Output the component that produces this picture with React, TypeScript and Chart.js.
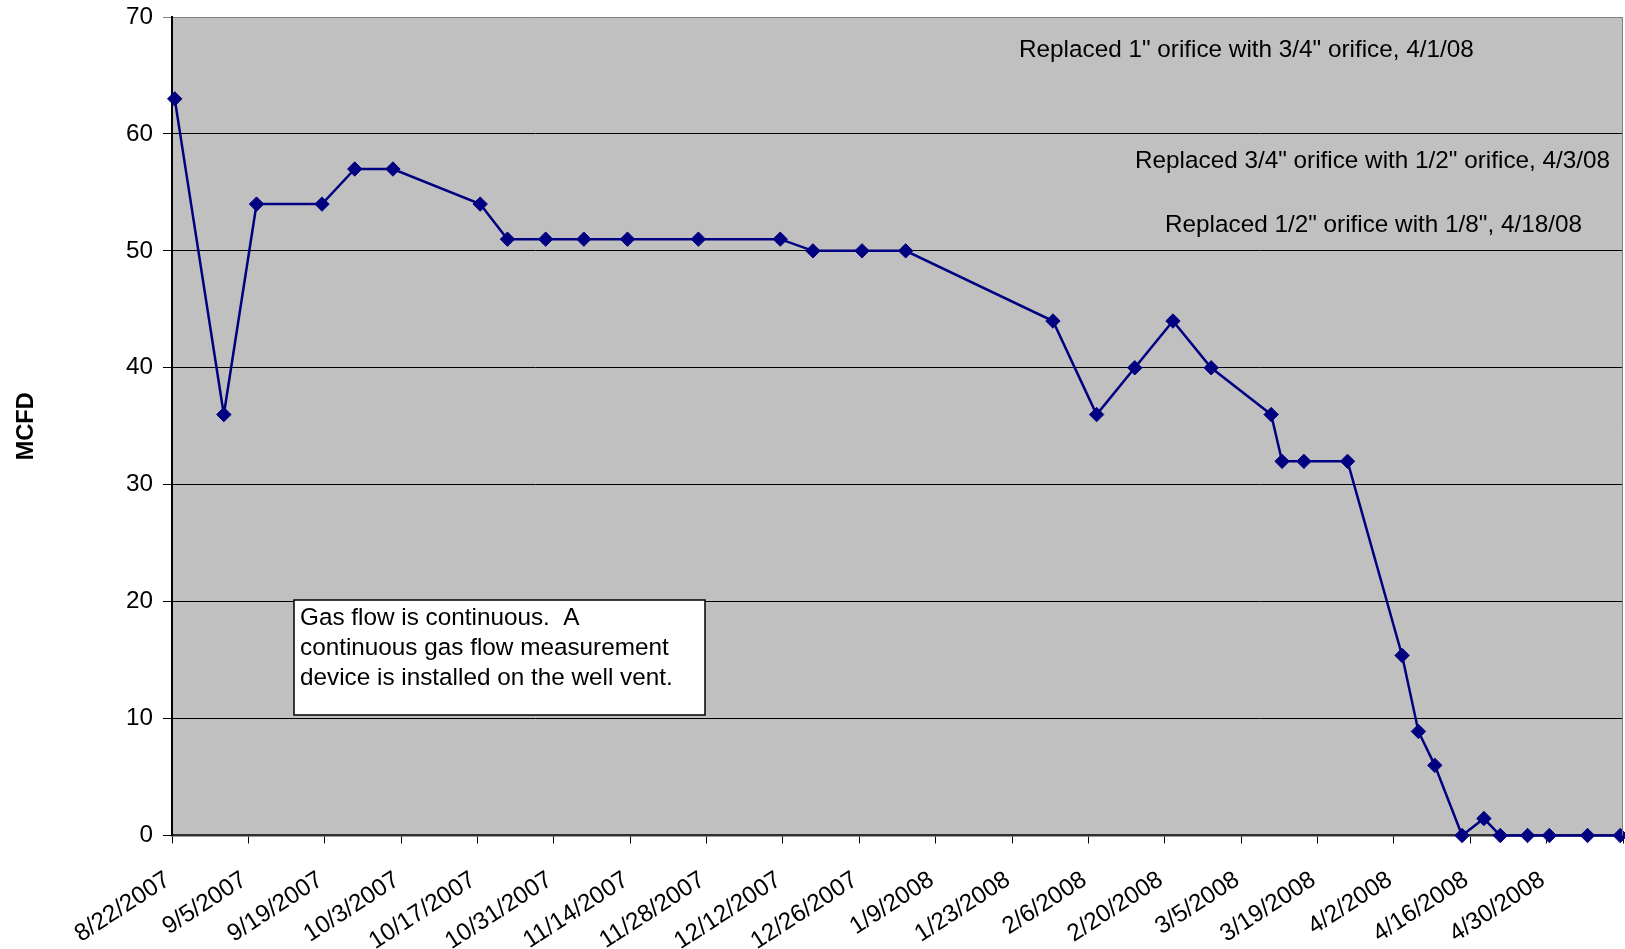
import { useEffect, useRef } from 'react';
import { Chart, registerables } from 'chart.js';

Chart.register(...registerables);

// Daily gas flow readings (MCFD) from the well vent meter
const readingDates = [
  '8/22/2007', '8/31/2007', '9/6/2007', '9/18/2007', '9/24/2007', '10/1/2007',
  '10/17/2007', '10/22/2007', '10/29/2007', '11/5/2007', '11/13/2007', '11/26/2007',
  '12/11/2007', '12/17/2007', '12/26/2007', '1/3/2008', '1/30/2008', '2/7/2008',
  '2/14/2008', '2/21/2008', '2/28/2008', '3/10/2008', '3/12/2008', '3/16/2008',
  '3/24/2008', '4/3/2008', '4/6/2008', '4/9/2008', '4/14/2008', '4/18/2008',
  '4/21/2008', '4/26/2008', '4/30/2008', '5/7/2008', '5/13/2008',
];
const mcfdValues = [
  63, 36, 54, 54, 57, 57,
  54, 51, 51, 51, 51, 51,
  51, 50, 50, 50, 44, 36,
  40, 44, 40, 36, 32, 32,
  32, 15.4, 8.9, 6, 0, 1.45,
  0, 0, 0, 0, 0,
];

const xTickLabels = [
  '8/22/2007', '9/5/2007', '9/19/2007', '10/3/2007', '10/17/2007', '10/31/2007',
  '11/14/2007', '11/28/2007', '12/12/2007', '12/26/2007', '1/9/2008', '1/23/2008',
  '2/6/2008', '2/20/2008', '3/5/2008', '3/19/2008', '4/2/2008', '4/16/2008',
  '4/30/2008',
];
const axisEndDate = '5/14/2008';
const yTickValues = [0, 10, 20, 30, 40, 50, 60, 70];

const orificeNotes = [
  'Replaced 1" orifice with 3/4" orifice, 4/1/08',
  'Replaced 3/4" orifice with 1/2" orifice, 4/3/08',
  'Replaced 1/2" orifice with 1/8", 4/18/08',
];
const flowNoteLines = [
  'Gas flow is continuous.  A',
  'continuous gas flow measurement',
  'device is installed on the well vent.',
];

const FONT = '"Liberation Sans", Arial, sans-serif';
const DAY_MS = 86400000;

function parseDate(s: string): number {
  const [m, d, y] = s.split('/').map(Number);
  return Date.UTC(y, m - 1, d);
}
const origin = parseDate(xTickLabels[0]);
const dayOf = (s: string) => Math.round((parseDate(s) - origin) / DAY_MS);
const axisEnd = dayOf(axisEndDate);
const tickDays = [...xTickLabels.map(dayOf), axisEnd];
const labelByDay = new Map<number, string>(xTickLabels.map((l) => [dayOf(l), l]));

// each reading sits at the middle of its day slot
const points = readingDates.map((d, i) => ({ x: dayOf(d) + 0.5, y: mcfdValues[i] }));

const plotFrame = {
  id: 'plotFrame',
  beforeDraw(chart: any) {
    const { ctx, chartArea: a } = chart;
    ctx.save();
    ctx.fillStyle = '#C0C0C0';
    ctx.fillRect(a.left, a.top, a.right - a.left, a.bottom - a.top);
    ctx.restore();
  },
  afterDatasetsDraw(chart: any) {
    const { ctx, chartArea: a } = chart;
    ctx.save();
    ctx.strokeStyle = '#808080';
    ctx.lineWidth = 1;
    ctx.beginPath();
    ctx.moveTo(a.right - 0.5, a.top);
    ctx.lineTo(a.right - 0.5, a.bottom);
    ctx.stroke();
    ctx.restore();
  },
};

const notesPlugin = {
  id: 'notes',
  afterDatasetsDraw(chart: any) {
    const { ctx, chartArea: a } = chart;
    ctx.save();
    ctx.font = `24.3px ${FONT}`;
    ctx.fillStyle = '#000';
    ctx.textBaseline = 'alphabetic';
    ctx.textAlign = 'left';
    const notePos = [
      [847, 40],
      [963, 150.5],
      [993, 215],
    ];
    orificeNotes.forEach((t, i) => {
      ctx.fillText(t, a.left + notePos[i][0], a.top + notePos[i][1]);
    });

    const bx = a.left + 122;
    const by = a.top + 583;
    const bw = 411;
    const bh = 115;
    ctx.fillStyle = '#FFFFFF';
    ctx.fillRect(bx, by, bw, bh);
    ctx.strokeStyle = '#000';
    ctx.lineWidth = 1.5;
    ctx.strokeRect(bx, by, bw, bh);
    ctx.fillStyle = '#000';
    flowNoteLines.forEach((t, i) => {
      ctx.fillText(t, bx + 6, by + 24.5 + i * 30);
    });
    ctx.restore();
  },
};

export default function App() {
  const canvasRef = useRef<HTMLCanvasElement>(null);

  useEffect(() => {
    document.body.style.margin = '0';
    const canvas = canvasRef.current;
    if (!canvas) return;
    const chart = new Chart(canvas, {
      type: 'line',
      data: {
        datasets: [
          {
            label: 'MCFD',
            data: points,
            borderColor: '#000080',
            backgroundColor: '#000080',
            borderWidth: 2.5,
            pointStyle: 'rectRot',
            pointRadius: 7.2,
            pointBorderWidth: 1,
            pointBackgroundColor: '#000080',
            pointBorderColor: '#000080',
            tension: 0,
            clip: false,
          },
        ],
      },
      options: {
        responsive: false,
        animation: false,
        devicePixelRatio: 1,
        layout: { autoPadding: false, padding: { left: 0, top: 17, right: 2, bottom: 0 } },
        plugins: {
          legend: { display: false },
          tooltip: { enabled: false },
        },
        scales: {
          x: {
            type: 'linear',
            min: 0,
            max: axisEnd,
            afterBuildTicks: (scale: any) => {
              scale.ticks = tickDays.map((v) => ({ value: v }));
            },
            afterFit: (scale: any) => {
              scale.height = 949 - 835.5;
              scale.paddingLeft = 0;
              scale.paddingRight = 0;
            },
            ticks: {
              autoSkip: false,
              minRotation: 33,
              maxRotation: 33,
              padding: 22,
              labelOffset: -4,
              color: '#000',
              font: { family: FONT, size: 24.3 },
              callback: (v: any) => labelByDay.get(Number(v)) ?? '',
            },
            grid: {
              drawOnChartArea: false,
              drawTicks: true,
              tickLength: 8,
              color: '#000',
              lineWidth: 1,
            },
            border: { display: true, color: '#303030', width: 2.5 },
          },
          y: {
            min: 0,
            max: 70,
            afterBuildTicks: (scale: any) => {
              scale.ticks = yTickValues.map((v) => ({ value: v }));
            },
            afterFit: (scale: any) => {
              scale.width = 172;
              scale.paddingTop = 0;
              scale.paddingBottom = 0;
            },
            ticks: {
              padding: 10,
              color: '#000',
              font: { family: FONT, size: 24.3 },
            },
            grid: {
              drawTicks: true,
              tickLength: 9,
              color: (c: any) => (c.tick && c.tick.value === 70 ? '#808080' : '#000'),
              lineWidth: 1,
            },
            border: { display: true, color: '#000', width: 2 },
            title: {
              display: true,
              text: 'MCFD',
              color: '#000',
              font: { family: FONT, size: 23.6, weight: 'bold' },
              padding: { top: 12, bottom: 0 },
            },
          },
        },
      },
      plugins: [plotFrame, notesPlugin],
    });
    return () => chart.destroy();
  }, []);

  return (
    <div style={{ width: 1625, height: 949, overflow: 'hidden', background: '#fff' }}>
      <canvas ref={canvasRef} width={1625} height={949} style={{ display: 'block' }} />
    </div>
  );
}
